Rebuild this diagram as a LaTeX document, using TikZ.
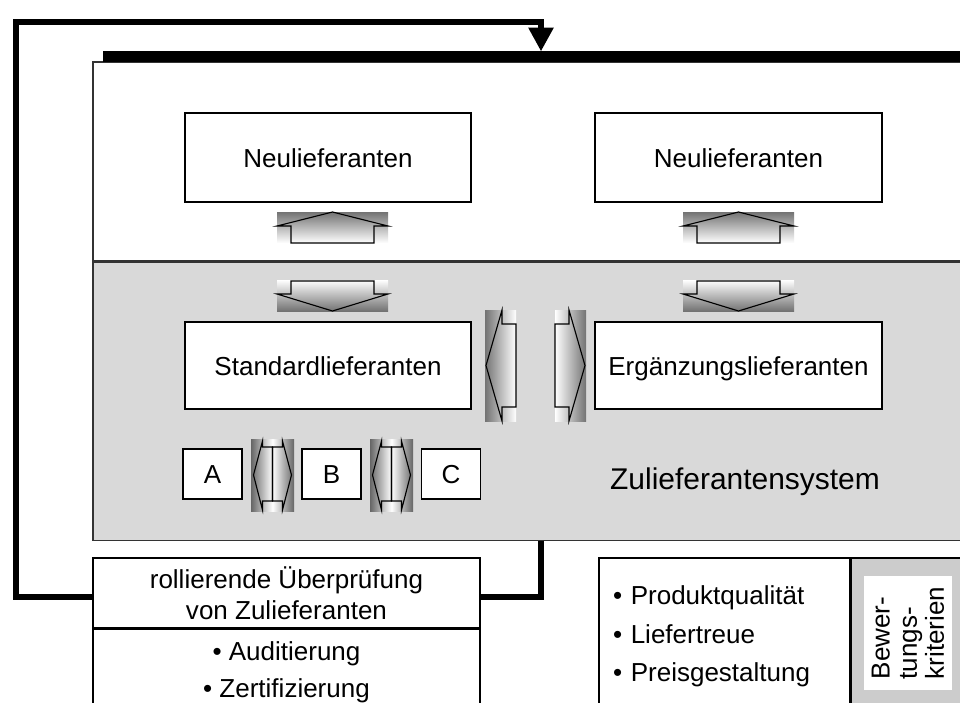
\documentclass[tikz,border=0pt]{standalone}
\usepackage{fontspec}
\setmainfont{Liberation Sans}
\usetikzlibrary{positioning,arrows.meta}
\definecolor{sysgray}{HTML}{D9D9D9}
\definecolor{critgray}{HTML}{CCCCCC}
\def\px{0.025cm}
\tikzset{
  box/.style = {draw=black, fill=white, line width=0.85pt, inner sep=0pt,
    align=center, font=\fontsize{18.5}{22}\selectfont},
  oneline/.style = {box, text height=13.6pt, text depth=0pt},% einzeilige Kaesten
  area/.style = {draw=black!80, line width=0.8pt, inner sep=0pt,
    minimum width=896*\px},% Flaechen des Zulieferantensystems
  blockarr/.style = {draw=black, line width=0.8pt, line join=miter},
  feedback/.style = {line width=4.3pt, line join=miter}
}

\begin{document}
\begin{tikzpicture}[x=\px,y=-\px]
  \useasboundingbox (0,0) rectangle (960,703);
  \clip (0,0) rectangle (960,703);

  % Flaechen
  \node[area, fill=white, minimum height=199*\px] (pool) at (541,161.5) {};
  \node[area, fill=sysgray, minimum height=278*\px, below=0pt of pool] (system) {};
  \draw[line width=7.8pt] ([xshift=11*\px, yshift=4.5*\px]pool.north west)
    -- ([yshift=4.5*\px]pool.north east);

  % Lieferantengruppen
  \node[oneline, minimum width=286*\px, minimum height=89*\px] (neuL) at (328,157.5) {Neulieferanten};
  \node[oneline, minimum width=287*\px, minimum height=89*\px] (neuR) at (738.5,157.5) {Neulieferanten};
  \node[oneline, minimum width=286*\px, minimum height=87*\px] (standard) at (328,365.5) {Standardlieferanten};
  \node[oneline, minimum width=287*\px, minimum height=87*\px] (ergaenz) at (738.5,365.5) {Ergänzungslieferanten};
  \node[oneline, minimum width=59*\px, minimum height=50*\px] (A) at (212.5,474) {A};
  \node[oneline, minimum width=59*\px, minimum height=50*\px] (B) at (331.5,474) {B};
  \node[oneline, minimum width=59*\px, minimum height=50*\px] (C) at (451,474) {C};
  \node[font=\fontsize{21.3}{25}\selectfont] (syslabel) at (745,482) {Zulieferantensystem};

  % Blockpfeile auf und ab
  \foreach \x in {277,683} {
    \shade[top color=black!55, bottom color=white] (\x,212) rectangle ++(111,31);
    \draw[blockarr] (\x+14,243) -- ++(0,-17) -- ++(-14,0) -- ++(55.5,-14)
      -- ++(55.5,14) -- ++(-14,0) -- ++(0,17) -- cycle;
    \shade[top color=white, bottom color=black!55] (\x,280) rectangle ++(111,31);
    \draw[blockarr] (\x+14,281) -- ++(83,0) -- ++(0,13) -- ++(14,0)
      -- ++(-55.5,17) -- ++(-55.5,-17) -- ++(14,0) -- cycle;
  }

  % Blockpfeile links und rechts
  \shade[left color=black!55, right color=white] (485,310) rectangle (516,421);
  \draw[blockarr] (516,324) -- (502,324) -- (502,310) -- (486,365.5)
    -- (502,421) -- (502,407) -- (516,407) -- cycle;
  \shade[left color=white, right color=black!55] (555,310) rectangle (586,421);
  \draw[blockarr] (555,324) -- (569,324) -- (569,310) -- (585,365.5)
    -- (569,421) -- (569,407) -- (555,407) -- cycle;

  % Doppelpfeile zwischen A, B und C
  \foreach \c in {272.5,391.5} {
    \shade[left color=black!60, right color=black!60, middle color=white]
      (\c-21.5,439) rectangle (\c+21.5,511);
    \draw[blockarr] (\c,447) -- (\c-10,447) -- (\c-10,441) -- (\c-19,475)
      -- (\c-10,510) -- (\c-10,501) -- (\c,501) -- cycle;
    \draw[blockarr] (\c,447) -- (\c+10,447) -- (\c+10,441) -- (\c+19,475)
      -- (\c+10,510) -- (\c+10,501) -- (\c,501) -- cycle;
  }

  % Ueberpruefung
  \node[box, minimum width=387*\px, minimum height=70*\px] (review) at (286.5,593)
    {rollierende Überprüfung\\von Zulieferanten};
  \node[box, minimum width=387*\px, minimum height=87*\px, below=0pt of review,
    font=\fontsize{18.5}{26.3}\selectfont] (checks) {• Auditierung\\• Zertifizierung};

  % Bewertungskriterien
  \node[box, text width=223*\px, inner xsep=14*\px, minimum height=157*\px, align=left,
    font=\fontsize{18.5}{27.4}\selectfont] (criteria) at (724.5,636.5)
    {• Produktqualität\\• Liefertreue\\• Preisgestaltung};
  \node[box, fill=critgray, minimum width=125*\px, minimum height=157*\px,
    right=0pt of criteria] (critlabel) {};
  \node[fill=white, rotate=90, inner sep=0pt, minimum width=114*\px, minimum height=88*\px,
    align=left, font=\fontsize{18.5}{19.3}\selectfont] (crittext) at (908,633)
    {Bewer-\\tungs-\\kriterien};

  % Rueckkopplung
  \draw[feedback] (system.south) |- ([yshift=-4*\px]review.east);
  \draw[feedback, -{Triangle[length=17pt, width=17pt]}] ([yshift=-4*\px]review.west)
    -| (16,22) -| ([yshift=10*\px]pool.north);
\end{tikzpicture}
\end{document}
